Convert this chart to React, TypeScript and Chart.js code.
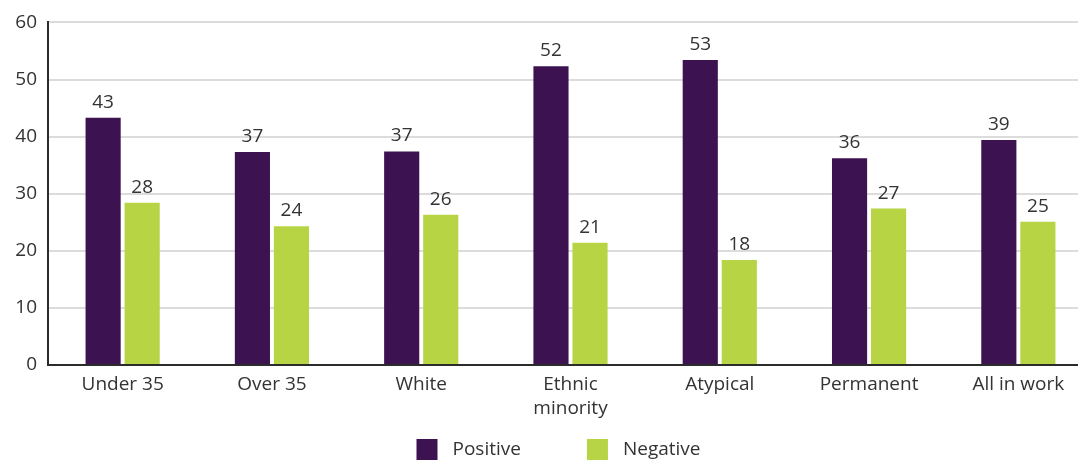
import React, { useEffect, useRef } from "react";
import { Chart, registerables } from "chart.js";

Chart.register(...registerables);

const categories: (string | string[])[] = [
  "Under 35",
  "Over 35",
  "White",
  ["Ethnic", "minority"],
  "Atypical",
  "Permanent",
  "All in work",
];
const positiveValues = [43.3, 37.3, 37.4, 52.3, 53.4, 36.2, 39.4];
const negativeValues = [28.4, 24.3, 26.3, 21.4, 18.4, 27.4, 25.1];
const yTicks = [0, 10, 20, 30, 40, 50, 60];

const PURPLE = "#3D1250";
const GREEN = "#B6D443";
const TEXT = "#333333";
const FONT = "'Open Sans', sans-serif";
const FS = 19;

const valueLabels = {
  id: "valueLabels",
  afterDatasetsDraw(chart: any) {
    const ctx = chart.ctx;
    ctx.save();
    ctx.fillStyle = TEXT;
    ctx.font = `${FS}px ${FONT}`;
    ctx.textAlign = "center";
    ctx.textBaseline = "alphabetic";
    chart.data.datasets.forEach((ds: any, i: number) => {
      const meta = chart.getDatasetMeta(i);
      meta.data.forEach((bar: any, j: number) => {
        ctx.fillText(String(Math.round(ds.data[j])), bar.x, bar.y - 10);
      });
    });
    ctx.restore();
  },
};

const customLegend = {
  id: "customLegend",
  afterDraw(chart: any) {
    const ctx = chart.ctx;
    ctx.save();
    ctx.font = `${FS}px ${FONT}`;
    const box = 21;
    const gapText = 15;
    const gapItem = 66;
    const items = chart.data.datasets.map((ds: any) => ({
      label: ds.label,
      color: ds.backgroundColor,
      w: box + gapText + ctx.measureText(ds.label).width,
    }));
    const total =
      items.reduce((s: number, it: any) => s + it.w, 0) + gapItem * (items.length - 1);
    const center = (chart.chartArea.left + chart.chartArea.right) / 2 - 12;
    let x = center - total / 2;
    const cy = 449.5;
    items.forEach((it: any) => {
      ctx.fillStyle = it.color;
      ctx.fillRect(x, cy - box / 2, box, box);
      ctx.fillStyle = TEXT;
      ctx.textAlign = "left";
      ctx.textBaseline = "middle";
      ctx.fillText(it.label, x + box + gapText, cy);
      x += it.w + gapItem;
    });
    ctx.restore();
  },
};

export default function App() {
  const ref = useRef<HTMLCanvasElement | null>(null);

  useEffect(() => {
    document.body.style.overflow = "hidden";
    if (!ref.current) return;
    const chart = new Chart(ref.current, {
      type: "bar",
      data: {
        labels: categories,
        datasets: [
          {
            label: "Positive",
            data: positiveValues,
            backgroundColor: PURPLE,
            categoryPercentage: 0.523,
            barPercentage: 0.9,
          },
          {
            label: "Negative",
            data: negativeValues,
            backgroundColor: GREEN,
            categoryPercentage: 0.523,
            barPercentage: 0.9,
          },
        ],
      },
      options: {
        responsive: false,
        animation: false,
        layout: { padding: { top: 19, right: 7, left: 0, bottom: 0 } },
        plugins: {
          legend: { display: false },
          tooltip: { enabled: false },
        },
        scales: {
          x: {
            grid: { display: false, drawTicks: false },
            border: { display: true, color: "#2b2b2b", width: 2 },
            ticks: {
              color: TEXT,
              font: { family: FONT, size: FS, lineHeight: 1.3 },
              padding: 7,
              maxRotation: 0,
              autoSkip: false,
            },
            afterFit(scale: any) {
              scale.height = 97;
            },
          },
          y: {
            min: 0,
            max: 60,
            afterBuildTicks(scale: any) {
              scale.ticks = yTicks.map((v) => ({ value: v }));
            },
            grid: { color: "#dcdcdc", lineWidth: 2, drawTicks: false },
            border: { display: true, color: "#2b2b2b", width: 2 },
            ticks: {
              color: TEXT,
              font: { family: FONT, size: FS },
              padding: 11,
            },
            afterFit(scale: any) {
              scale.width = 48;
            },
          },
        },
      },
      plugins: [valueLabels, customLegend],
    });
    return () => chart.destroy();
  }, []);

  return (
    <div style={{ position: "fixed", left: 0, top: 0, width: 1100, height: 462, background: "#fff" }}>
      <canvas ref={ref} width={1100} height={462} style={{ display: "block" }} />
    </div>
  );
}
